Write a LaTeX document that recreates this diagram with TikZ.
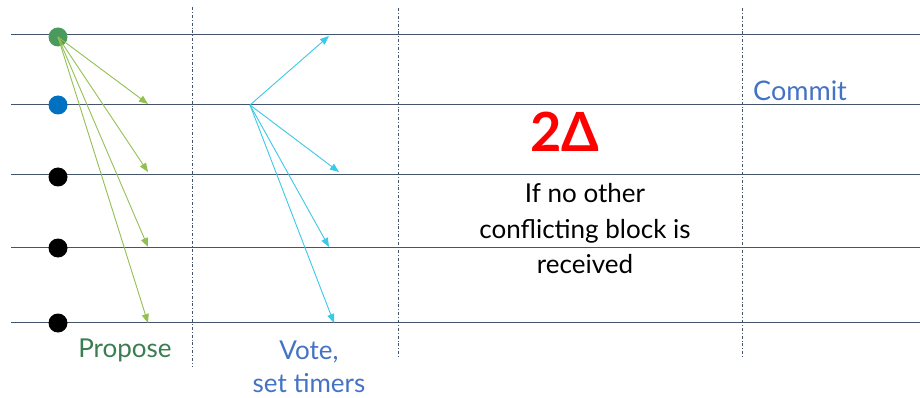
\documentclass[tikz,border=0pt]{standalone}
\usepackage{fontspec}
\setmainfont{Lato}
\usetikzlibrary{arrows.meta}
\definecolor{linec}{HTML}{44546A}
\definecolor{gdot}{HTML}{4A9A5E}
\definecolor{bdot}{HTML}{0070C0}
\definecolor{garr}{HTML}{92C050}
\definecolor{barr}{HTML}{3CC8E8}
\definecolor{gtext}{HTML}{3A7D50}
\definecolor{btext}{HTML}{4472C4}
\tikzset{
  x=1pt,y=-1pt,
  lane/.style={draw=linec,line width=1pt},
  sep/.style={draw=linec,line width=0.8pt,dash pattern=on 3pt off 2pt on 0.8pt off 2pt},
  dotc/.style={circle,inner sep=0pt,minimum size=19pt},
  garrow/.style={draw=garr,line width=0.9pt,-{Triangle[length=9pt,width=7pt]}},
  barrow/.style={draw=barr,line width=0.9pt,-{Triangle[length=9pt,width=7pt]}},
  lbl/.style={font=\fontsize{26}{30}\selectfont,align=center,inner sep=0pt}
}
\begin{document}
\begin{tikzpicture}
\useasboundingbox (0,0) rectangle (920,398);
% lanes
\foreach \y/\n in {35/1,105/2,175/3,247/4,322/5}{
  \coordinate (l\n) at (11,\y);
  \coordinate (r\n) at (920,\y);
  \draw[lane] (l\n) -- (r\n);
}
% separators
\coordinate (s1t) at (192,7); \coordinate (s1b) at (192,367);
\coordinate (s2t) at (398,8); \coordinate (s2b) at (398,358);
\coordinate (s3t) at (742,8); \coordinate (s3b) at (742,358);
\draw[sep] (s1t) -- (s1b);
\draw[sep] (s2t) -- (s2b);
\draw[sep] (s3t) -- (s3b);
% dots
\node[dotc,fill=gdot] (p1) at (58,37) {};
\node[dotc,fill=bdot] (p2) at (58,105) {};
\node[dotc,fill=black] (p3) at (58,177) {};
\node[dotc,fill=black] (p4) at (58,248) {};
\node[dotc,fill=black] (p5) at (58,323) {};
% propose targets
\coordinate (g2) at (148,104);
\coordinate (g3) at (148,172);
\coordinate (g4) at (148,247);
\coordinate (g5) at (148,323);
\foreach \t in {g2,g3,g4,g5}{\draw[garrow] (p1.center) -- (\t);}
% vote
\coordinate (v0) at (250,105);
\coordinate (b1) at (329,36);
\coordinate (b3) at (339,172);
\coordinate (b4) at (329,247);
\coordinate (b5) at (334,323);
\foreach \t in {b1,b3,b4,b5}{\draw[barrow] (v0) -- (\t);}
% labels
\node[lbl,text=gtext] (propose) at (125,350) {Propose};
\node[lbl,text=btext,font=\fontsize{26}{33}\selectfont] (vote) at (309,367) {Vote,\\ set timers};
\node[lbl,text=btext,anchor=west,font=\fontsize{27}{30}\selectfont] (commit) at (753,91) {Commit};
\node[text=red,font=\fontsize{54}{54}\selectfont\bfseries,inner sep=0pt] (delta) at (565,132) {2Δ};
\node[lbl,text=black,font=\fontsize{26}{35.5}\selectfont] (cond) at (585,229) {If no other\\ conflicting block is\\ received};
\end{tikzpicture}
\end{document}
